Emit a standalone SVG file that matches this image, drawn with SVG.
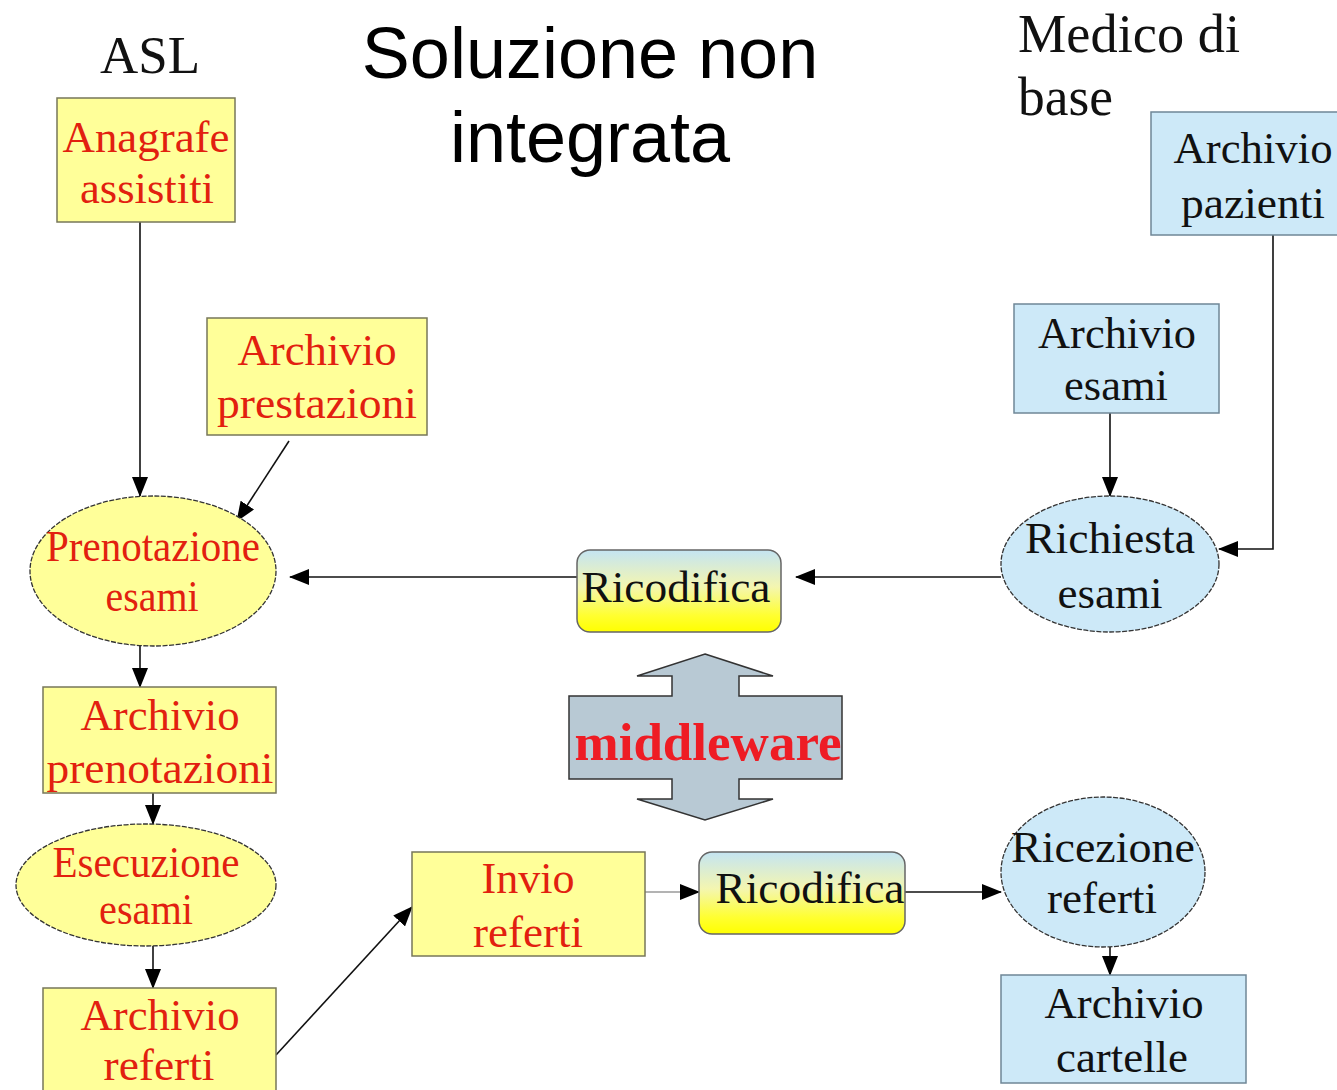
<svg xmlns="http://www.w3.org/2000/svg" width="1337" height="1090" viewBox="0 0 1337 1090">
<style>
.y{fill:#ffff99;stroke:#77775a;stroke-width:1.5}
.b{fill:#cde9f8;stroke:#6f8797;stroke-width:1.5}
.e{stroke:#333;stroke-width:1.3;stroke-dasharray:5 1.5}
.t{font-family:"Liberation Serif","Times New Roman",serif;font-size:44px;text-anchor:middle}
.r{fill:#e2200f}
.k{fill:#111}
.c{fill:none;stroke:#111;stroke-width:1.6}
</style>
<defs>
<marker id="a" markerUnits="userSpaceOnUse" markerWidth="20" markerHeight="16" viewBox="0 0 20 16" refX="19" refY="8" orient="auto">
<path d="M0,0 L20,8 L0,16 Z" fill="#000"/>
</marker>
<linearGradient id="g" x1="0" y1="0" x2="0" y2="1">
<stop offset="0" stop-color="#c4e4f2"/>
<stop offset="0.45" stop-color="#f4f6b0"/>
<stop offset="0.8" stop-color="#ffff30"/>
<stop offset="1" stop-color="#ffff00"/>
</linearGradient>
</defs>
<rect width="1337" height="1090" fill="#fff"/>

<g id="titles">
<text x="590" y="78" font-family="Liberation Sans,Arial,sans-serif" font-size="72" text-anchor="middle" fill="#000">Soluzione non</text>
<text x="590" y="162" font-family="Liberation Sans,Arial,sans-serif" font-size="72" text-anchor="middle" fill="#000">integrata</text>
<text x="150" y="73" font-family="Liberation Serif,Times New Roman,serif" font-size="53" text-anchor="middle" fill="#111" textLength="100" lengthAdjust="spacingAndGlyphs">ASL</text>
<text x="1018" y="52" font-family="Liberation Serif,Times New Roman,serif" font-size="54" fill="#111" textLength="222" lengthAdjust="spacingAndGlyphs">Medico di</text>
<text x="1018" y="115" font-family="Liberation Serif,Times New Roman,serif" font-size="54" fill="#111" textLength="95" lengthAdjust="spacingAndGlyphs">base</text>
</g>

<g id="connectors">
<line class="c" x1="140" y1="222" x2="140" y2="496" marker-end="url(#a)"/>
<line class="c" x1="289" y1="441" x2="237" y2="521" marker-end="url(#a)"/>
<line class="c" x1="577" y1="577" x2="290" y2="577" marker-end="url(#a)"/>
<line class="c" x1="1001" y1="577" x2="796" y2="577" marker-end="url(#a)"/>
<line class="c" x1="1110" y1="413" x2="1110" y2="496" marker-end="url(#a)"/>
<polyline class="c" points="1273,235 1273,549 1219,549" marker-end="url(#a)"/>
<line class="c" x1="140" y1="646" x2="140" y2="687" marker-end="url(#a)"/>
<line class="c" x1="153" y1="780" x2="153" y2="824" marker-end="url(#a)"/>
<line class="c" x1="153" y1="946" x2="153" y2="988" marker-end="url(#a)"/>
<line class="c" x1="276" y1="1055" x2="412" y2="907" marker-end="url(#a)"/>
<line class="c" x1="645" y1="892" x2="699" y2="892" style="stroke:#9a9a9a" marker-end="url(#a)"/>
<line class="c" x1="905" y1="892" x2="1001" y2="892" marker-end="url(#a)"/>
<line class="c" x1="1110" y1="947" x2="1110" y2="975" marker-end="url(#a)"/>
</g>

<g id="anagrafe">
<rect class="y" x="57" y="98" width="178" height="124"/>
<text class="t r" x="146" y="152" textLength="167" lengthAdjust="spacingAndGlyphs">Anagrafe</text>
<text class="t r" x="147" y="203" textLength="134" lengthAdjust="spacingAndGlyphs">assistiti</text>
</g>

<g id="archivio-prestazioni">
<rect class="y" x="207" y="318" width="220" height="117"/>
<text class="t r" x="317" y="365" textLength="159" lengthAdjust="spacingAndGlyphs">Archivio</text>
<text class="t r" x="317" y="418" textLength="200" lengthAdjust="spacingAndGlyphs">prestazioni</text>
</g>

<g id="prenotazione-esami">
<ellipse class="y e" cx="153" cy="571" rx="123" ry="75"/>
<text class="t r" x="153" y="561" textLength="214" lengthAdjust="spacingAndGlyphs">Prenotazione</text>
<text class="t r" x="152" y="611" textLength="93" lengthAdjust="spacingAndGlyphs">esami</text>
</g>

<g id="archivio-prenotazioni">
<rect class="y" x="43" y="687" width="233" height="106"/>
<text class="t r" x="160" y="730" textLength="159" lengthAdjust="spacingAndGlyphs">Archivio</text>
<text class="t r" x="160" y="783" textLength="227" lengthAdjust="spacingAndGlyphs">prenotazioni</text>
</g>

<g id="esecuzione-esami">
<ellipse class="y e" cx="146" cy="885" rx="130" ry="61"/>
<text class="t r" x="146" y="877" textLength="187" lengthAdjust="spacingAndGlyphs">Esecuzione</text>
<text class="t r" x="146" y="924" textLength="94" lengthAdjust="spacingAndGlyphs">esami</text>
</g>

<g id="archivio-referti">
<rect class="y" x="43" y="988" width="233" height="110"/>
<text class="t r" x="160" y="1030" textLength="159" lengthAdjust="spacingAndGlyphs">Archivio</text>
<text class="t r" x="159" y="1080" textLength="111" lengthAdjust="spacingAndGlyphs">referti</text>
</g>

<g id="invio-referti">
<rect class="y" x="412" y="852" width="233" height="104"/>
<text class="t r" x="528" y="893" textLength="93" lengthAdjust="spacingAndGlyphs">Invio</text>
<text class="t r" x="528" y="947" textLength="110" lengthAdjust="spacingAndGlyphs">referti</text>
</g>

<g id="ricodifica-top">
<rect x="577" y="550" width="204" height="82" rx="13" fill="url(#g)" stroke="#666" stroke-width="1.5"/>
<text class="t k" x="676" y="602" textLength="189" lengthAdjust="spacingAndGlyphs">Ricodifica</text>
</g>

<g id="ricodifica-bottom">
<rect x="699" y="852" width="206" height="82" rx="13" fill="url(#g)" stroke="#666" stroke-width="1.5"/>
<text class="t k" x="810" y="903" textLength="189" lengthAdjust="spacingAndGlyphs">Ricodifica</text>
</g>

<g id="middleware">
<polygon points="705,654 773,676 739,676 739,696 842,696 842,779 739,779 739,799 773,799 705,820 637,799 672,799 672,779 569,779 569,696 672,696 672,676 637,676" fill="#b8c9d4" stroke="#333" stroke-width="1.5"/>
<text x="708" y="760" font-family="Liberation Serif,Times New Roman,serif" font-size="53" font-weight="bold" text-anchor="middle" fill="#ee1c24" textLength="267" lengthAdjust="spacingAndGlyphs">middleware</text>
</g>

<g id="archivio-pazienti">
<rect class="b" x="1151" y="112" width="190" height="123"/>
<text class="t k" x="1253" y="163" textLength="159" lengthAdjust="spacingAndGlyphs">Archivio</text>
<text class="t k" x="1253" y="218" textLength="144" lengthAdjust="spacingAndGlyphs">pazienti</text>
</g>

<g id="archivio-esami">
<rect class="b" x="1014" y="304" width="205" height="109"/>
<text class="t k" x="1117" y="348" textLength="158" lengthAdjust="spacingAndGlyphs">Archivio</text>
<text class="t k" x="1116" y="400" textLength="104" lengthAdjust="spacingAndGlyphs">esami</text>
</g>

<g id="richiesta-esami">
<ellipse class="b e" cx="1110" cy="564" rx="109" ry="68"/>
<text class="t k" x="1110" y="553" textLength="170" lengthAdjust="spacingAndGlyphs">Richiesta</text>
<text class="t k" x="1110" y="608" textLength="105" lengthAdjust="spacingAndGlyphs">esami</text>
</g>

<g id="ricezione-referti">
<ellipse class="b e" cx="1103" cy="872" rx="102" ry="75"/>
<text class="t k" x="1103" y="862" textLength="184" lengthAdjust="spacingAndGlyphs">Ricezione</text>
<text class="t k" x="1102" y="913" textLength="110" lengthAdjust="spacingAndGlyphs">referti</text>
</g>

<g id="archivio-cartelle">
<rect class="b" x="1001" y="975" width="245" height="108"/>
<text class="t k" x="1124" y="1018" textLength="159" lengthAdjust="spacingAndGlyphs">Archivio</text>
<text class="t k" x="1122" y="1072" textLength="132" lengthAdjust="spacingAndGlyphs">cartelle</text>
</g>
</svg>
